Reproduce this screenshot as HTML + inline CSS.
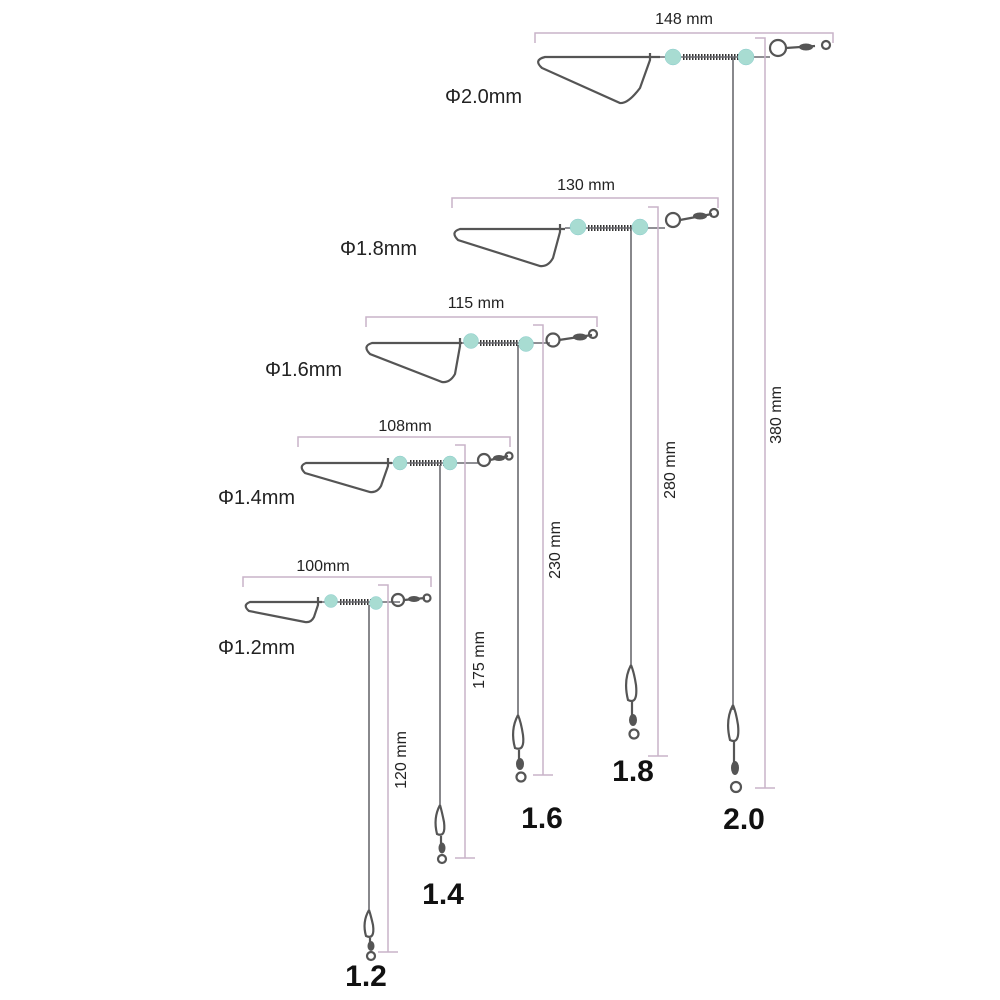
<!DOCTYPE html>
<html><head><meta charset="utf-8"><style>
html,body{margin:0;padding:0;background:#fff;}
svg{display:block}
.dim{stroke:#c9b3c9;stroke-width:1.5;fill:none}
.w{stroke:#6a6a70;stroke-width:1.6;fill:none}
.wt{stroke:#555;stroke-width:2.2;fill:none}
.sp{stroke:#333;stroke-width:6;stroke-dasharray:1.5 1.5;fill:none}
.bd{fill:#a8dcd2;stroke:#8cc;stroke-width:.5}
.t{font-family:"Liberation Sans",sans-serif;fill:#222}
.b{font-family:"Liberation Sans",sans-serif;font-weight:bold;fill:#111;font-size:30px}
</style></head><body>
<svg width="1000" height="1000" viewBox="0 0 1000 1000">
<!-- 2.0 -->
<g>
<path class="dim" d="M535 43V33H833V43"/>
<text class="t" x="684" y="24" font-size="16" text-anchor="middle">148 mm</text>
<path class="wt" d="M660 57H545Q533 60 542 68L620 103Q628 104 640 88L650 60V53"/>
<path class="sp" d="M683 57H740"/>
<path class="w" d="M660 57H770"/>
<circle class="bd" cx="673" cy="57" r="8"/><circle class="bd" cx="746" cy="57" r="8"/>
<circle class="wt" cx="778" cy="48" r="8"/>
<path class="wt" d="M786 48L815 46"/><ellipse cx="806" cy="47" rx="7" ry="3.5" fill="#555"/><circle class="wt" cx="826" cy="45" r="4"/>
<path class="w" d="M733 57V710"/>
<path class="wt" d="M733 705Q725 720 730 740Q740 745 738 725Q736 712 733 705M734 742V770"/><ellipse cx="735" cy="768" rx="4" ry="7" fill="#555"/><circle class="wt" cx="736" cy="787" r="5"/>
<path class="dim" d="M755 38H765V788M755 788H775"/>
<text class="t" x="0" y="0" font-size="16" text-anchor="middle" transform="translate(781,415) rotate(-90)">380 mm</text>
<text class="t" x="445" y="103" font-size="20">Φ2.0mm</text>
<text class="b" x="744" y="829" text-anchor="middle">2.0</text>
</g>
<!-- 1.8 -->
<g>
<path class="dim" d="M452 208V198H718V208"/>
<text class="t" x="586" y="190" font-size="16" text-anchor="middle">130 mm</text>
<path class="wt" d="M565 229H460Q450 232 458 240L540 266Q548 267 553 258L560 232V224"/>
<path class="sp" d="M588 228H635"/>
<path class="w" d="M565 228H665"/>
<circle class="bd" cx="578" cy="227" r="8"/><circle class="bd" cx="640" cy="227" r="8"/>
<circle class="wt" cx="673" cy="220" r="7"/>
<path class="wt" d="M680 220L712 214"/><ellipse cx="700" cy="216" rx="7" ry="3.5" fill="#555"/><circle class="wt" cx="714" cy="213" r="4"/>
<path class="w" d="M631 228V668"/>
<path class="wt" d="M631 665Q623 680 628 700Q638 705 636 685Q634 672 631 665M632 702V718"/><ellipse cx="633" cy="720" rx="4" ry="6" fill="#555"/><circle class="wt" cx="634" cy="734" r="4.5"/>
<path class="dim" d="M648 207H658V756M648 756H668"/>
<text class="t" x="0" y="0" font-size="16" text-anchor="middle" transform="translate(675,470) rotate(-90)">280 mm</text>
<text class="t" x="340" y="255" font-size="20">Φ1.8mm</text>
<text class="b" x="633" y="781" text-anchor="middle">1.8</text>
</g>
<!-- 1.6 -->
<g>
<path class="dim" d="M366 327V317H597V327"/>
<text class="t" x="476" y="308" font-size="16" text-anchor="middle">115 mm</text>
<path class="wt" d="M462 343H372Q362 346 370 354L442 382Q450 383 455 374L460 346V338"/>
<path class="sp" d="M480 343H520"/>
<path class="w" d="M462 343H550"/>
<circle class="bd" cx="471" cy="341" r="7.5"/><circle class="bd" cx="526" cy="344" r="7.5"/>
<circle class="wt" cx="553" cy="340" r="6.5"/>
<path class="wt" d="M559 340L592 335"/><ellipse cx="580" cy="337" rx="7" ry="3.5" fill="#555"/><circle class="wt" cx="593" cy="334" r="4"/>
<path class="w" d="M518 345V718"/>
<path class="wt" d="M518 715Q510 730 515 748Q525 752 523 735Q521 722 518 715M519 750V762"/><ellipse cx="520" cy="764" rx="4" ry="6" fill="#555"/><circle class="wt" cx="521" cy="777" r="4.5"/>
<path class="dim" d="M533 325H543V775M533 775H553"/>
<text class="t" x="0" y="0" font-size="16" text-anchor="middle" transform="translate(560,550) rotate(-90)">230 mm</text>
<text class="t" x="265" y="376" font-size="20">Φ1.6mm</text>
<text class="b" x="542" y="828" text-anchor="middle">1.6</text>
</g>
<!-- 1.4 -->
<g>
<path class="dim" d="M298 447V437H510V447"/>
<text class="t" x="405" y="431" font-size="16" text-anchor="middle">108mm</text>
<path class="wt" d="M392 463H306Q298 466 305 473L370 492Q377 493 381 486L388 466V458"/>
<path class="sp" d="M410 463H445"/>
<path class="w" d="M392 463H478"/>
<circle class="bd" cx="400" cy="463" r="7"/><circle class="bd" cx="450" cy="463" r="7"/>
<circle class="wt" cx="484" cy="460" r="6"/>
<path class="wt" d="M490 460L508 456"/><ellipse cx="499" cy="458" rx="6" ry="3" fill="#555"/><circle class="wt" cx="509" cy="456" r="3.5"/>
<path class="w" d="M440 465V808"/>
<path class="wt" d="M440 805Q433 818 437 834Q446 838 444 822Q442 812 440 805M441 836V846"/><ellipse cx="442" cy="848" rx="3.5" ry="5.5" fill="#555"/><circle class="wt" cx="442" cy="859" r="4"/>
<path class="dim" d="M455 445H465V858M455 858H475"/>
<text class="t" x="0" y="0" font-size="16" text-anchor="middle" transform="translate(484,660) rotate(-90)">175 mm</text>
<text class="t" x="218" y="504" font-size="20">Φ1.4mm</text>
<text class="b" x="443" y="904" text-anchor="middle">1.4</text>
</g>
<!-- 1.2 -->
<g>
<path class="dim" d="M243 587V577H431V587"/>
<text class="t" x="323" y="571" font-size="16" text-anchor="middle">100mm</text>
<path class="wt" d="M322 602H250Q242 605 249 611L305 622Q311 623 314 617L318 605V597"/>
<path class="sp" d="M340 602H372"/>
<path class="w" d="M322 602H400"/>
<circle class="bd" cx="331" cy="601" r="6.5"/><circle class="bd" cx="376" cy="603" r="6.5"/>
<circle class="wt" cx="398" cy="600" r="6"/>
<path class="wt" d="M404 600L425 598"/><ellipse cx="414" cy="599" rx="6" ry="3" fill="#555"/><circle class="wt" cx="427" cy="598" r="3.5"/>
<path class="w" d="M369 605V912"/>
<path class="wt" d="M369 910Q362 922 366 936Q375 940 373 925Q371 916 369 910M370 938V946"/><ellipse cx="371" cy="946" rx="3.5" ry="5" fill="#555"/><circle class="wt" cx="371" cy="956" r="4"/>
<path class="dim" d="M378 585H388V952M378 952H398"/>
<text class="t" x="0" y="0" font-size="16" text-anchor="middle" transform="translate(406,760) rotate(-90)">120 mm</text>
<text class="t" x="218" y="654" font-size="20">Φ1.2mm</text>
<text class="b" x="366" y="986" text-anchor="middle">1.2</text>
</g>
</svg>
</body></html>
